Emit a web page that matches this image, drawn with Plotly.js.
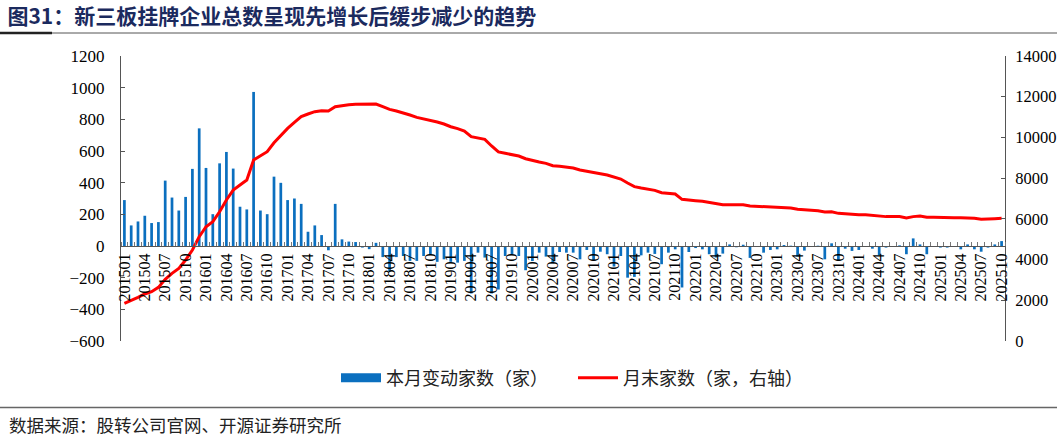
<!DOCTYPE html>
<html>
<head>
<meta charset="utf-8">
<script src="https://cdn.plot.ly/plotly-3.0.1.min.js"></script>
<style>
html,body{margin:0;padding:0;background:#fff;}
#chart{width:1057px;height:439px;}
</style>
</head>
<body>
<div id="chart"></div>
<script>
// Month categories 201501 .. 202510
const categories = [];
for (let y = 2015; y <= 2025; y++) {
  for (let m = 1; m <= 12; m++) {
    if (y === 2025 && m > 10) break;
    categories.push(String(y) + (m < 10 ? '0' + m : String(m)));
  }
}

// 本月变动家数（家）
const monthlyChange = [
  290,130,155,191,145,151,413,306,224,310,487,743,
  493,201,522,594,489,248,231,973,224,201,438,399,
  290,300,266,90,130,69,-27,266,42,28,25,-10,
  -20,20,-70,-160,-70,-63,-94,-94,-63,-52,-100,-84,
  -100,-105,-94,-300,-42,-73,-300,-275,-63,-52,-63,-153,
  -95,-42,-67,-110,-38,-42,-42,-84,-25,-90,-36,-52,
  -130,-63,-200,-195,-59,-42,-50,-115,-42,-21,-262,-38,
  -13,-21,-52,-73,-48,10,-8,8,-75,-5,-42,-25,
  -21,6,2,-67,-29,-4,2,-84,17,-94,-17,-31,
  -25,-3,-17,-59,-10,-2,4,-52,48,10,-52,-3,
  -10,-10,-5,-21,10,-21,-36,-10,10,31
];

// 月末家数（家，右轴）
const monthEndCount = [
  1850,1980,2145,2310,2420,2635,3030,3320,3570,3980,4470,5125,
  5615,5860,6350,6925,7415,7660,7910,8890,9085,9300,9740,10120,
  10445,10740,11020,11150,11265,11315,11300,11510,11575,11605,11625,11630,
  11630,11640,11510,11380,11300,11215,11100,10985,10920,10855,10755,10660,
  10525,10430,10315,10035,9985,9905,9580,9285,9220,9170,9085,8955,
  8855,8790,8725,8610,8580,8545,8495,8400,8350,8265,8220,8155,
  8040,7955,7760,7580,7515,7465,7400,7285,7235,7220,6960,6910,
  6890,6860,6810,6745,6695,6695,6695,6695,6630,6615,6580,6550,
  6535,6535,6535,6470,6440,6440,6400,6335,6350,6270,6240,6205,
  6205,6205,6175,6125,6110,6110,6110,6040,6110,6140,6075,6075,
  6060,6060,6055,6057,6050,6025,5977,5977,6010,6025
];

const xIdx = categories.map((c, i) => i);
const tickIdx = xIdx.filter(i => i % 3 === 0);
const tickText = tickIdx.map(i => categories[i]);

const BLUE = '#0b6fbf';
const RED = '#ff0000';
const serif = 'Liberation Serif, Times New Roman, serif';
const cjk = 'Noto Sans CJK SC, sans-serif';

const traces = [
  {
    type: 'bar', x: xIdx, y: monthlyChange, yaxis: 'y', xaxis: 'x',
    marker: {color: BLUE, line: {width: 0}},
    name: '本月变动家数（家）', showlegend: false, hoverinfo: 'skip'
  },
  {
    type: 'scatter', mode: 'lines', x: [null], y: [null],
    line: {color: BLUE, width: 9},
    name: '本月变动家数（家）', showlegend: true, hoverinfo: 'skip'
  },
  {
    type: 'scatter', mode: 'lines', x: xIdx, y: monthEndCount, yaxis: 'y2',
    line: {color: RED, width: 3},
    name: '月末家数（家，右轴）', hoverinfo: 'skip'
  }
];

const L = 121, R = 1005, T = 56, B = 341, W = 1057, H = 439;
const px = v => (v - L) / (R - L);
const py = v => (B - v) / (B - T);

const layout = {
  width: W, height: H,
  margin: {l: L, r: W - R, t: T, b: H - B, pad: 0},
  paper_bgcolor: '#fff', plot_bgcolor: '#fff',
  bargap: 0.6,
  showlegend: true,
  title: {
    text: '图31：新三板挂牌企业总数呈现先增长后缓步减少的趋势',
    font: {family: cjk, size: 21, color: '#1b2a5e', weight: 'bold'},
    x: 0.007, xanchor: 'left', xref: 'container',
    y: 1 - 17 / H, yanchor: 'middle', yref: 'container'
  },
  xaxis: {
    type: 'linear',
    range: [-0.5, 129.5],
    anchor: 'free', position: 1 / 3,
    showgrid: false, zeroline: false,
    showline: true, linecolor: '#555', linewidth: 1,
    tickmode: 'array', tickvals: tickIdx, ticktext: tickText,
    tickangle: -90, ticks: '',
    tickfont: {family: serif, size: 16, color: '#000'},
    minor: {ticks: 'inside', ticklen: 4, tickcolor: '#777', tickwidth: 1, tickmode: 'linear', tick0: 0.5, dtick: 1, showgrid: false},
    fixedrange: true
  },
  yaxis: {
    range: [-600, 1200], dtick: 200, tick0: 0,
    showgrid: false, zeroline: false,
    showline: true, linecolor: '#555', linewidth: 1,
    ticks: 'inside', ticklen: 4, tickcolor: '#555',
    ticklabelstandoff: 12,
    tickfont: {family: serif, size: 17, color: '#000'},
    fixedrange: true
  },
  yaxis2: {
    overlaying: 'y', side: 'right',
    range: [0, 14000], dtick: 2000, tick0: 0,
    tickformat: 'd',
    showgrid: false, zeroline: false,
    showline: true, linecolor: '#555', linewidth: 1,
    ticks: 'inside', ticklen: 4, tickcolor: '#555',
    ticklabelstandoff: 6,
    tickfont: {family: serif, size: 16.5, color: '#000'},
    fixedrange: true
  },
  legend: {
    orientation: 'h', x: px(336), xanchor: 'left',
    y: py(378), yanchor: 'middle',
    font: {family: cjk, size: 18, color: '#222'},
    itemwidth: 40, tracegroupgap: 0,
    entrywidth: 182, entrywidthmode: 'pixels',
    bgcolor: 'rgba(0,0,0,0)'
  },
  shapes: [
    {type: 'line', xref: 'paper', yref: 'paper', x0: px(0), x1: px(W), y0: py(33), y1: py(33), line: {color: '#555', width: 1}},
    {type: 'line', xref: 'paper', yref: 'paper', x0: px(0), x1: px(52), y0: py(33), y1: py(33), line: {color: '#222', width: 2.5}},
    {type: 'line', xref: 'paper', yref: 'paper', x0: px(0), x1: px(W), y0: py(407.5), y1: py(407.5), line: {color: '#666', width: 1.5}}
  ],
  annotations: [
    {
      text: '数据来源：股转公司官网、开源证券研究所',
      xref: 'paper', yref: 'paper', x: px(7), y: py(424),
      xanchor: 'left', yanchor: 'middle', showarrow: false,
      font: {family: cjk, size: 17.5, color: '#222'}
    }
  ]
};

Plotly.newPlot('chart', traces, layout, {displayModeBar: false, staticPlot: true});
</script>
</body>
</html>
